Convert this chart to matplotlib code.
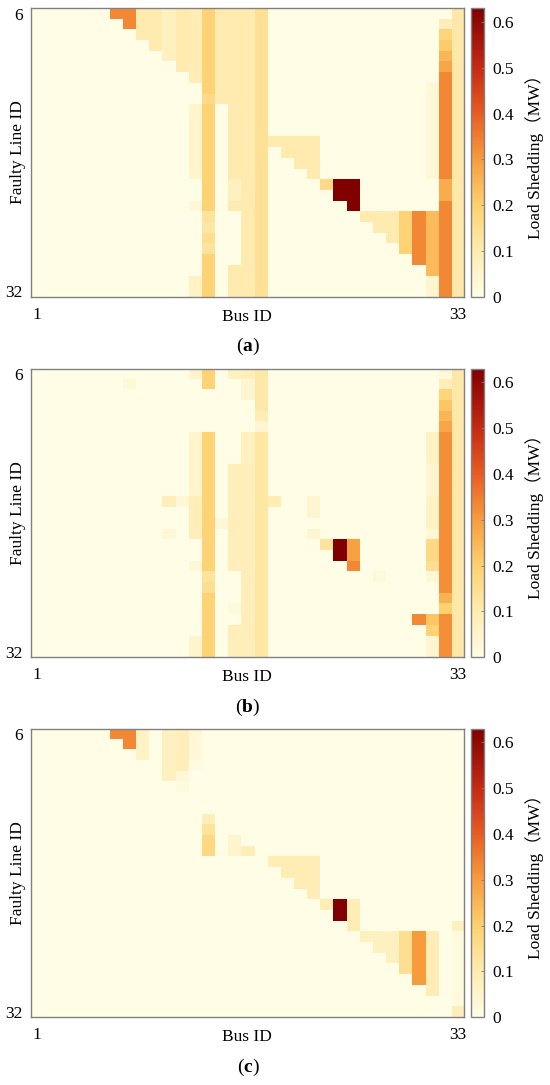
import matplotlib.pyplot as plt
import numpy as np
from matplotlib.colors import LinearSegmentedColormap

plt.rcParams['font.family'] = ['Liberation Serif', 'Noto Sans CJK SC']
plt.rcParams['mathtext.fontset'] = 'custom'
plt.rcParams['mathtext.rm'] = 'Liberation Serif'
plt.rcParams['mathtext.bf'] = 'Liberation Serif:bold'

line_ids = list(range(6, 33))   # faulty lines 6..32 (rows)
bus_ids = list(range(1, 34))    # buses 1..33 (columns)

# blocks of cells: (first line, last line, first bus, last bus, load shed in MW)
shed_a = [
    (6, 6, 7, 8, 0.33), (7, 7, 8, 8, 0.33),
    (6, 8, 9, 9, 0.10), (6, 9, 10, 10, 0.10), (6, 10, 11, 11, 0.07),
    (6, 11, 12, 12, 0.10), (6, 12, 13, 13, 0.09), (15, 21, 13, 13, 0.05),
    (24, 24, 13, 13, 0.03), (31, 32, 13, 13, 0.06),
    (6, 13, 14, 14, 0.19), (14, 14, 14, 14, 0.16), (15, 24, 14, 14, 0.19),
    (25, 25, 14, 14, 0.13), (26, 26, 14, 14, 0.12), (27, 27, 14, 14, 0.15),
    (28, 28, 14, 14, 0.13), (29, 32, 14, 14, 0.19),
    (6, 14, 15, 15, 0.10),
    (6, 21, 16, 16, 0.10), (22, 23, 16, 16, 0.07), (24, 24, 16, 16, 0.10),
    (30, 32, 16, 16, 0.10),
    (6, 32, 17, 17, 0.10), (6, 32, 18, 18, 0.14),
    (18, 18, 19, 22, 0.10), (19, 19, 20, 22, 0.10), (20, 20, 21, 22, 0.10),
    (21, 21, 22, 22, 0.10), (22, 22, 23, 23, 0.16),
    (22, 23, 24, 25, 0.63), (24, 24, 25, 25, 0.63),
    (25, 25, 26, 28, 0.10), (26, 26, 27, 28, 0.10), (27, 27, 28, 28, 0.10),
    (25, 28, 29, 29, 0.19), (25, 29, 30, 30, 0.33),
    (13, 21, 31, 31, 0.03), (25, 30, 31, 31, 0.24), (31, 32, 31, 31, 0.04),
    (7, 7, 32, 32, 0.08), (8, 8, 32, 32, 0.18), (9, 9, 32, 32, 0.21),
    (10, 10, 32, 32, 0.25), (11, 11, 32, 32, 0.28), (12, 21, 32, 32, 0.33),
    (22, 23, 32, 32, 0.27), (24, 32, 32, 32, 0.33),
    (6, 32, 33, 33, 0.11),
]

shed_b = [
    (7, 7, 8, 8, 0.03),
    (18, 18, 11, 11, 0.08), (21, 21, 11, 11, 0.03), (18, 18, 12, 12, 0.03),
    (6, 6, 13, 13, 0.05), (12, 17, 13, 13, 0.05), (18, 21, 13, 13, 0.08),
    (24, 24, 13, 13, 0.03), (31, 32, 13, 13, 0.05),
    (6, 7, 14, 14, 0.19), (12, 24, 14, 14, 0.19), (25, 25, 14, 14, 0.13),
    (26, 26, 14, 14, 0.15), (27, 32, 14, 14, 0.19),
    (20, 20, 15, 15, 0.03),
    (6, 6, 16, 16, 0.07), (15, 24, 16, 16, 0.08), (28, 28, 16, 16, 0.02),
    (30, 32, 16, 16, 0.08),
    (6, 6, 17, 17, 0.08), (7, 8, 17, 17, 0.04),
    (12, 14, 17, 17, 0.07), (15, 32, 17, 17, 0.08),
    (6, 9, 18, 18, 0.11), (10, 10, 18, 18, 0.09), (11, 11, 18, 18, 0.04),
    (12, 32, 18, 18, 0.12),
    (18, 18, 19, 19, 0.09),
    (18, 19, 22, 22, 0.04), (21, 21, 22, 22, 0.04),
    (22, 22, 23, 23, 0.13), (22, 23, 24, 24, 0.63),
    (22, 23, 25, 25, 0.29), (24, 24, 25, 25, 0.33),
    (25, 25, 27, 27, 0.02), (29, 29, 30, 30, 0.33),
    (12, 14, 31, 31, 0.06), (15, 17, 31, 31, 0.04), (18, 20, 31, 31, 0.06),
    (21, 21, 31, 31, 0.03), (22, 23, 31, 31, 0.17), (24, 24, 31, 31, 0.15),
    (25, 25, 31, 31, 0.03), (29, 29, 31, 31, 0.22), (30, 30, 31, 31, 0.19),
    (31, 32, 31, 31, 0.04),
    (6, 6, 32, 32, 0.02), (7, 7, 32, 32, 0.08), (8, 8, 32, 32, 0.18),
    (9, 9, 32, 32, 0.22), (10, 10, 32, 32, 0.25), (11, 11, 32, 32, 0.28),
    (12, 26, 32, 32, 0.32), (27, 27, 32, 32, 0.26), (28, 28, 32, 32, 0.20),
    (29, 32, 32, 32, 0.32),
    (6, 32, 33, 33, 0.11),
]

shed_c = [
    (6, 6, 7, 8, 0.33), (7, 7, 8, 8, 0.33),
    (6, 8, 9, 9, 0.06), (6, 10, 11, 11, 0.07),
    (6, 9, 12, 12, 0.08), (10, 10, 12, 12, 0.03), (11, 11, 12, 12, 0.015),
    (6, 8, 13, 13, 0.03), (9, 9, 13, 13, 0.01),
    (14, 14, 14, 14, 0.08), (15, 15, 14, 14, 0.13), (16, 17, 14, 14, 0.17),
    (16, 17, 16, 16, 0.05), (17, 17, 17, 17, 0.08),
    (18, 18, 19, 22, 0.09), (19, 19, 20, 22, 0.09), (20, 20, 21, 22, 0.09),
    (21, 21, 22, 22, 0.09), (22, 22, 23, 23, 0.09),
    (22, 23, 24, 24, 0.63), (22, 24, 25, 25, 0.09),
    (25, 25, 26, 28, 0.07), (26, 26, 27, 28, 0.07), (27, 27, 28, 28, 0.07),
    (25, 28, 29, 29, 0.15), (25, 29, 30, 30, 0.30), (25, 30, 31, 31, 0.09),
    (24, 24, 33, 33, 0.07), (25, 31, 33, 33, 0.015), (32, 32, 33, 33, 0.08),
]

panels = [('a', shed_a), ('b', shed_b), ('c', shed_c)]

cmap = LinearSegmentedColormap.from_list('shed', [
    (0.00, '#FFFDE6'), (0.16, '#FFEBAF'), (0.32, '#FED06E'),
    (0.48, '#F79B3C'), (0.64, '#E85A23'), (0.80, '#C32814'), (1.00, '#800000'),
])
vmax = 0.63

W, H = 550, 1085
fig = plt.figure(figsize=(W / 100, H / 100), dpi=100)

ax_left, ax_right = 30.7, 464.0
cb_left, cb_right = 471.0, 484.3
panel_tops = [8.3, 368.7, 728.7]
panel_h = 288.5
fs = 12.5


def to_grid(blocks):
    grid = np.zeros((len(line_ids), len(bus_ids)))
    for l0, l1, b0, b1, mw in blocks:
        grid[line_ids.index(l0):line_ids.index(l1) + 1,
             bus_ids.index(b0):bus_ids.index(b1) + 1] = mw
    return grid


for (tag, blocks), top in zip(panels, panel_tops):
    bottom = top + panel_h
    ax = fig.add_axes([ax_left / W, 1 - bottom / H, (ax_right - ax_left) / W, panel_h / H])
    im = ax.imshow(to_grid(blocks), cmap=cmap, vmin=0, vmax=vmax, aspect='auto',
                   interpolation='nearest',
                   extent=[bus_ids[0] - 0.5, bus_ids[-1] + 0.5, line_ids[-1] + 0.5, line_ids[0] - 0.5])
    ax.set_xticks([bus_ids[0], bus_ids[-1]])
    ax.set_yticks([line_ids[0], line_ids[-1]])
    ax.tick_params(axis='x', length=0, labelsize=fs, pad=7)
    ax.tick_params(axis='y', length=0, labelsize=fs, pad=5.5)
    for s in ax.spines.values():
        s.set_color('#808080')
        s.set_linewidth(1.0)
    ax.text(0.5, -20 / panel_h, 'Bus ID', transform=ax.transAxes,
            ha='center', va='center', fontsize=fs)
    ax.text((18 - ax_left) / (ax_right - ax_left), 0.5, 'Faulty Line ID', transform=ax.transAxes,
            rotation=90, ha='center', va='center', fontsize=fs)

    cax = fig.add_axes([cb_left / W, 1 - bottom / H, (cb_right - cb_left) / W, panel_h / H])
    cb = fig.colorbar(im, cax=cax)
    cb.set_ticks([0, 0.1, 0.2, 0.3, 0.4, 0.5, 0.6])
    cb.set_ticklabels(['0', '0.1', '0.2', '0.3', '0.4', '0.5', '0.6'])
    cax.tick_params(direction='in', length=2.5, width=0.6, color='#808080', labelsize=fs, pad=6)
    cb.outline.set_edgecolor('#808080')
    cb.outline.set_linewidth(1.0)
    fig.text(534.5 / W, 1 - (top + panel_h / 2) / H, 'Load Shedding（MW）',
             rotation=90, ha='center', va='center', fontsize=fs)

    fig.text(248 / W, 1 - (bottom + 50) / H, r'($\mathbf{%s}$)' % tag,
             ha='center', va='center', fontsize=14)

fig.savefig('out.png', dpi=100)
